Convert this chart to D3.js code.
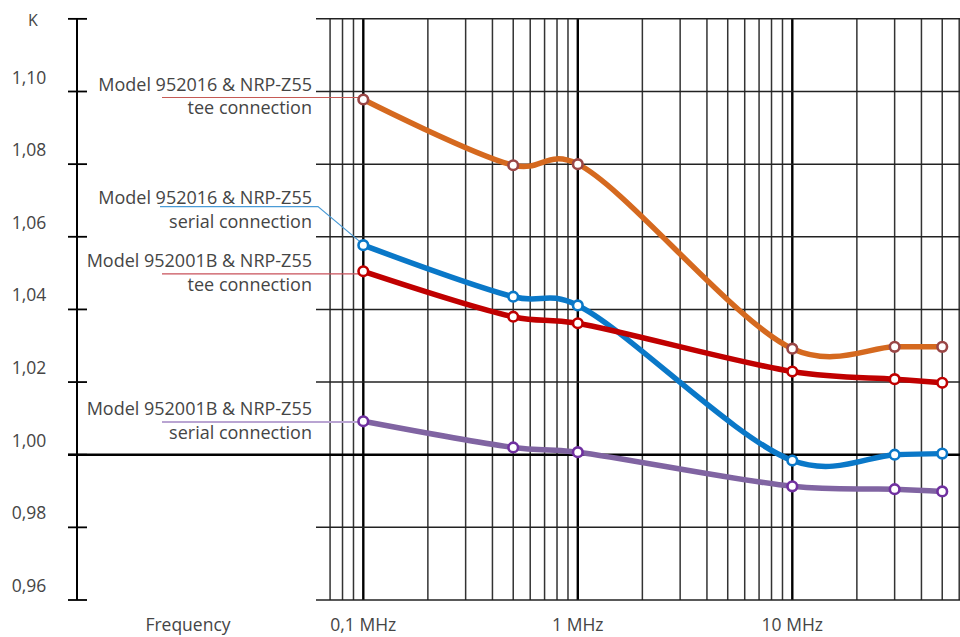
<!DOCTYPE html>
<html>
<head>
<meta charset="utf-8">
<script src="https://cdn.jsdelivr.net/npm/d3@7"></script>
<style>
  body { margin: 0; background: #fff; }
  text { font-family: "Open Sans", sans-serif; fill: #454545; }
</style>
</head>
<body>
<div id="svg-container"></div>
<script>
const width = 960
const height = 637

// DATA
const freqs = [0.1, 0.5, 1, 10, 30, 50]
const tee952016 = [1.0978, 1.0797, 1.08, 1.0292, 1.0297, 1.0297]
const serial952016 = [1.0577, 1.0435, 1.0411, 0.9984, 1.0, 1.0003]
const tee952001B = [1.0505, 1.038, 1.0362, 1.0229, 1.0208, 1.0198]
const serial952001B = [1.0092, 1.002, 1.0007, 0.9913, 0.9905, 0.9899]

const yGrid = [0.96, 0.98, 1.0, 1.02, 1.04, 1.06, 1.08, 1.1, 1.12]
const yTickLabels = ["0,96", "0,98", "1,00", "1,02", "1,04", "1,06", "1,08", "1,10"]
const xTickFreqs = [0.1, 1, 10]
const xTickLabels = ["0,1 MHz", "1 MHz", "10 MHz"]
const decades = [0.1, 1, 10]

const seriesLines1 = [
  "Model 952016 & NRP-Z55",
  "Model 952016 & NRP-Z55",
  "Model 952001B & NRP-Z55",
  "Model 952001B & NRP-Z55"
]
const seriesLines2 = ["tee connection", "serial connection", "tee connection", "serial connection"]

const series = [
  { values: tee952016, line: "#d5691f", marker: "#9a4646", leader: "#c55a55", shift: -2, leaderW: 1.2 },
  { values: serial952016, line: "#0a78c8", marker: "#0a78c8", leader: "#4a9bd6", shift: -38.5, leaderW: 1.2 },
  { values: tee952001B, line: "#c00000", marker: "#c00000", leader: "#c8505a", shift: 2.5, leaderW: 1.2 },
  { values: serial952001B, line: "#8064a2", marker: "#7030a0", leader: "#b9a4d2", shift: 0.7, leaderW: 2 }
]

const svg = d3
  .select("#svg-container")
  .append("svg")
  .attr("width", width)
  .attr("height", height)

// SCALES
const xScale = d3.scaleLog().domain([0.1, 10]).range([363.3, 792.3])
const yScale = d3.scaleLinear().domain([0.96, 1.1]).range([600, 91.5])
const gridFreqs = d3.scaleLog().domain([0.07, 60]).ticks()

const gridLeft = 316
const gridRight = 960
const axisX = 77

// GRID
const isDecade = (d) => decades.some((v) => Math.abs(v - d) < 1e-9)

svg
  .selectAll(".vgrid")
  .data(gridFreqs)
  .join("line")
  .attr("class", "vgrid")
  .attr("x1", (d) => xScale(d))
  .attr("x2", (d) => xScale(d))
  .attr("y1", yScale(1.12))
  .attr("y2", yScale(0.96))
  .attr("stroke", (d) => (isDecade(d) ? "#000" : "#333"))
  .attr("stroke-width", (d) => (isDecade(d) ? 2.4 : 1.5))

svg
  .selectAll(".hgrid")
  .data(yGrid)
  .join("line")
  .attr("class", "hgrid")
  .attr("x1", (d) => (d === 1.0 ? 68 : gridLeft))
  .attr("x2", gridRight)
  .attr("y1", (d) => yScale(d))
  .attr("y2", (d) => yScale(d))
  .attr("stroke", (d) => (d === 1.0 ? "#000" : "#222"))
  .attr("stroke-width", (d) => (d === 1.0 ? 2.6 : 1.5))

// Y AXIS
svg
  .append("line")
  .attr("x1", axisX)
  .attr("x2", axisX)
  .attr("y1", yScale(1.12))
  .attr("y2", yScale(0.96))
  .attr("stroke", "#000")
  .attr("stroke-width", 2)

svg
  .selectAll(".ytick")
  .data(yGrid)
  .join("line")
  .attr("class", "ytick")
  .attr("x1", 68)
  .attr("x2", 87)
  .attr("y1", (d) => yScale(d))
  .attr("y2", (d) => yScale(d))
  .attr("stroke", "#000")
  .attr("stroke-width", 1.8)

svg
  .selectAll(".ylabel")
  .data(yTickLabels)
  .join("text")
  .attr("class", "ylabel")
  .attr("x", 29)
  .attr("y", (d, i) => yScale(yGrid[i]) - 8)
  .attr("text-anchor", "middle")
  .style("font-size", "17.5px")
  .text((d) => d)

svg
  .append("text")
  .attr("x", 33)
  .attr("y", 26)
  .attr("text-anchor", "middle")
  .style("font-size", "16px")
  .text("K")

// X LABELS
svg
  .selectAll(".xlabel")
  .data(xTickLabels)
  .join("text")
  .attr("class", "xlabel")
  .attr("x", (d, i) => xScale(xTickFreqs[i]))
  .attr("y", 631)
  .attr("text-anchor", "middle")
  .style("font-size", "17.5px")
  .text((d) => d)

svg
  .append("text")
  .attr("x", 188)
  .attr("y", 631)
  .attr("text-anchor", "middle")
  .style("font-size", "17.5px")
  .text("Frequency")

// LEGEND LEADERS
const x0 = xScale(freqs[0])
series.forEach((s, i) => {
  const py = yScale(s.values[0])
  const ly = py + s.shift
  const pts = s.shift < -10
    ? [[160, ly], [318, ly], [x0 - 4, py - 4]]
    : [[162, ly], [x0 - 5, ly]]
  svg
    .append("path")
    .attr("d", d3.line()(pts))
    .attr("fill", "none")
    .attr("stroke", s.leader)
    .attr("stroke-width", s.leaderW)

  const ty = s.shift < -10 ? ly - 2.5 : ly - 6.5
  svg
    .append("text")
    .attr("x", 312)
    .attr("y", ty)
    .attr("text-anchor", "end")
    .style("font-size", "18px")
    .text(seriesLines1[i])
  svg
    .append("text")
    .attr("x", 312)
    .attr("y", ty + 23.5)
    .attr("text-anchor", "end")
    .style("font-size", "18px")
    .text(seriesLines2[i])
})

// SERIES
const lineGenerator = d3
  .line()
  .curve(d3.curveCatmullRom.alpha(0.3))
  .x((d, i) => xScale(freqs[i]))
  .y((d) => yScale(d))

svg
  .selectAll(".series")
  .data(series)
  .join("path")
  .attr("class", "series")
  .attr("d", (d) => lineGenerator(d.values))
  .attr("fill", "none")
  .attr("stroke", (d) => d.line)
  .attr("stroke-width", 5.5)
  .attr("stroke-linejoin", "round")

series.forEach((s) => {
  svg
    .selectAll(null)
    .data(s.values)
    .join("circle")
    .attr("cx", (d, i) => xScale(freqs[i]))
    .attr("cy", (d) => yScale(d))
    .attr("r", 4.8)
    .attr("fill", "#fff")
    .attr("stroke", s.marker)
    .attr("stroke-width", 2.6)
})
</script>
</body>
</html>
